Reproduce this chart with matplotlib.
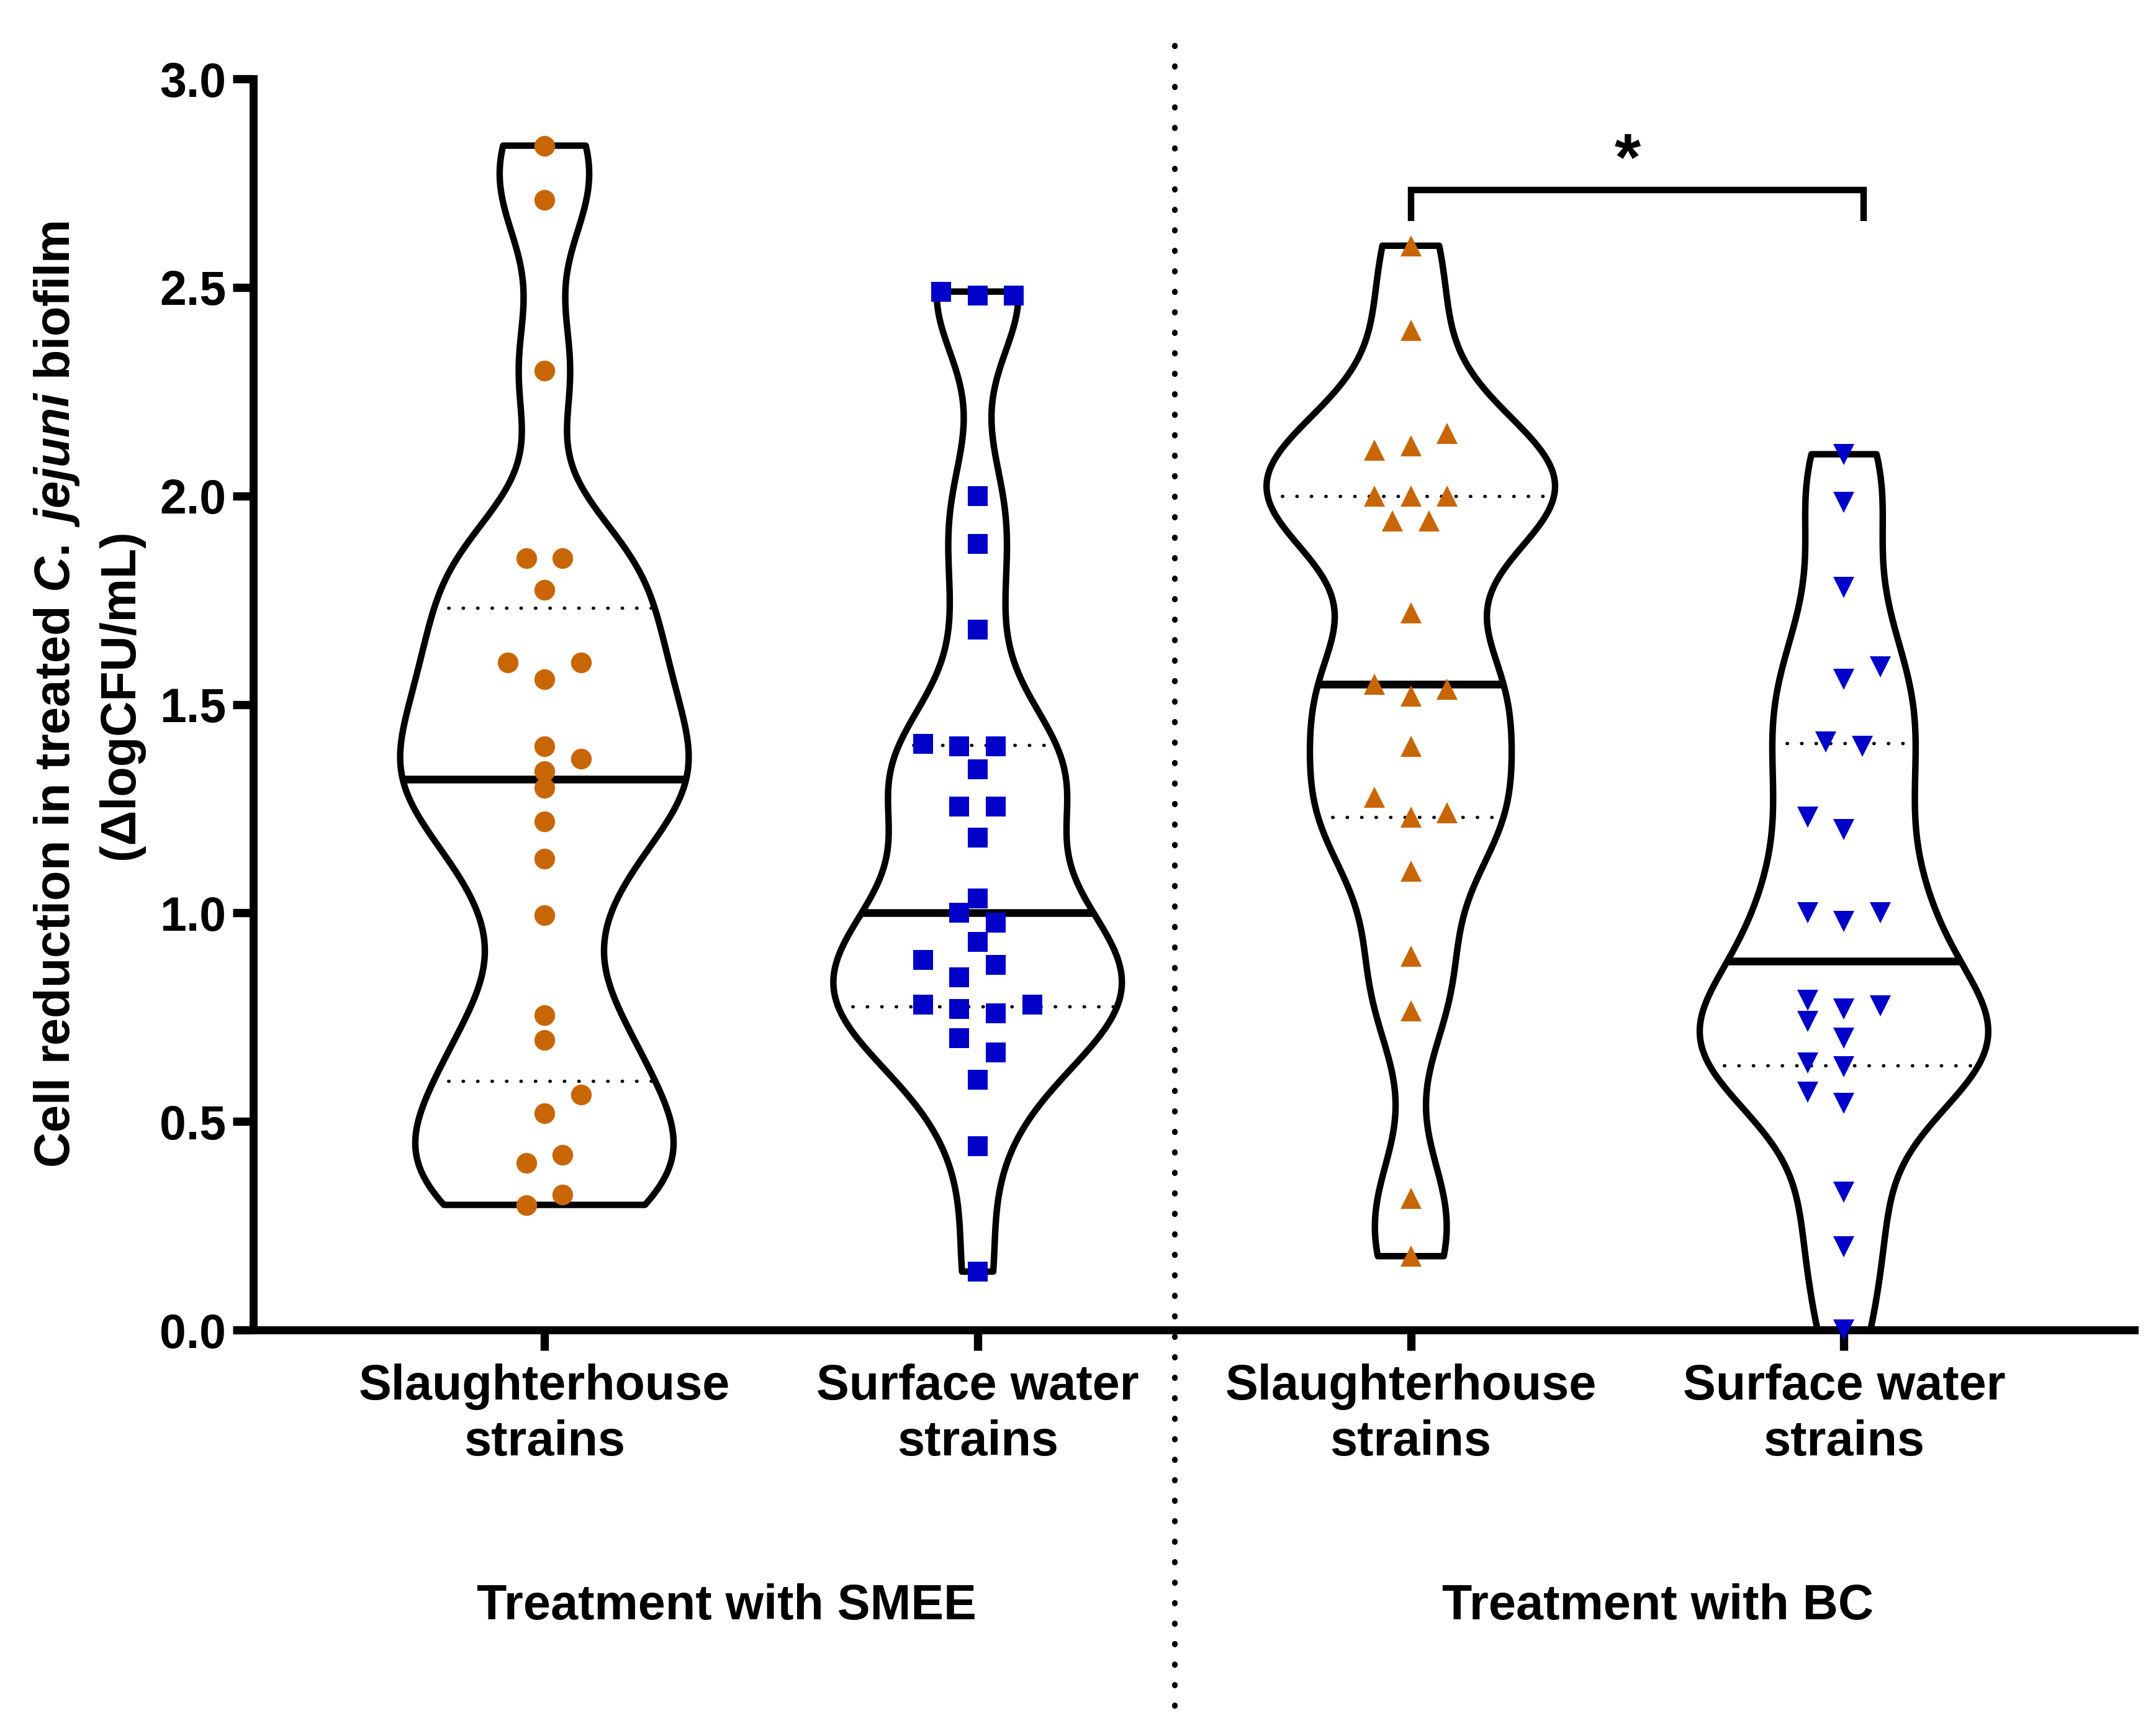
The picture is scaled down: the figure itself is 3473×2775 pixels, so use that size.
import matplotlib
matplotlib.use("Agg")
import matplotlib.pyplot as plt
import numpy as np
from matplotlib.lines import Line2D
from matplotlib.transforms import blended_transform_factory

# values (delta log CFU/mL), with the column slot of each point
smee_slaughter = [2.84, 2.71, 2.30, 1.85, 1.85, 1.775, 1.60, 1.60, 1.56, 1.40, 1.37, 1.34,
                  1.30, 1.22, 1.13, 0.995, 0.755, 0.695, 0.565, 0.52, 0.42, 0.40, 0.325, 0.30]
smee_slaughter_slot = [0, 0, 0, -1, 1, 0, -2, 2, 0, 0, 2, 0,
                       0, 0, 0, 0, 0, 0, 2, 0, 1, -1, 1, -1]

smee_surface = [2.49, 2.48, 2.48, 2.00, 1.885, 1.68, 1.405, 1.40, 1.40, 1.345, 1.255, 1.255,
                1.18, 1.035, 1.00, 0.977, 0.93, 0.887, 0.875, 0.846, 0.78, 0.77, 0.78, 0.76,
                0.70, 0.665, 0.60, 0.44, 0.14]
smee_surface_slot = [-2, 0, 2, 0, 0, 0, -3, -1, 1, 0, -1, 1,
                     0, 0, -1, 1, 0, -3, 1, -1, -3, -1, 3, 1,
                     -1, 1, 0, 0, 0]

bc_slaughter = [2.60, 2.397, 2.15, 2.11, 2.12, 2.00, 2.00, 2.00, 1.94, 1.94, 1.72, 1.548,
                1.537, 1.52, 1.40, 1.277, 1.24, 1.23, 1.10, 0.897, 0.766, 0.316, 0.177]
bc_slaughter_slot = [0, 0, 2, -2, 0, -2, 0, 2, -1, 1, 0, -2,
                     2, 0, 0, -2, 2, 0, 0, 0, 0, 0, 0]

bc_surface = [2.10, 1.984, 1.78, 1.59, 1.56, 1.41, 1.40, 1.23, 1.20, 1.00, 0.98, 1.00,
              0.79, 0.77, 0.777, 0.74, 0.70, 0.64, 0.632, 0.57, 0.543, 0.33, 0.20, 0.00]
bc_surface_slot = [0, 0, 0, 2, 0, -1, 1, -2, 0, -2, 0, 2,
                   -2, 0, 2, -2, 0, -2, 0, -2, 0, 0, 0, 0]

cat_labels = ["Slaughterhouse\nstrains", "Surface water\nstrains",
              "Slaughterhouse\nstrains", "Surface water\nstrains"]
group_labels = ["Treatment with SMEE", "Treatment with BC"]
y_ticks = [0.0, 0.5, 1.0, 1.5, 2.0, 2.5, 3.0]

ORANGE = "#C86605"
BLUE = "#0000C8"
HALF_WIDTH = 0.333
BANDWIDTH = 0.15
SLOT_STEP = 0.042


def kde_outline(values, n=400):
    values = np.asarray(values)
    grid = np.linspace(values.min(), values.max(), n)
    dens = np.exp(-0.5 * ((grid[:, None] - values[None, :]) / BANDWIDTH) ** 2).sum(axis=1)
    return grid, dens / dens.max() * HALF_WIDTH


def draw_violin(ax, pos, values, slots, marker, color, ms):
    grid, half = kde_outline(values)
    ax.fill_betweenx(grid, pos - half, pos + half, facecolor="none",
                     edgecolor="black", linewidth=2.5, zorder=2, clip_on=False)
    q1, med, q3 = np.percentile(values, [25, 50, 75], method="weibull")
    for q, style, lw in [(q1, (0, (0.1, 4.2)), 1.3), (q3, (0, (0.1, 4.2)), 1.3),
                         (med, "-", 3.0)]:
        w = np.interp(q, grid, half)
        ax.plot([pos - w, pos + w], [q, q], color="black", lw=lw, linestyle=style,
                dash_capstyle="round", solid_capstyle="butt", zorder=3)
    x = pos + np.asarray(slots) * SLOT_STEP
    ax.plot(x, values, linestyle="none", marker=marker, ms=ms, color=color,
            markeredgewidth=0, zorder=4, clip_on=False)


plt.rcParams["font.family"] = ["Liberation Sans", "DejaVu Sans"]
plt.rcParams["font.weight"] = "bold"
plt.rcParams["mathtext.fontset"] = "custom"
plt.rcParams["mathtext.rm"] = "Liberation Sans:bold"
plt.rcParams["mathtext.it"] = "Liberation Sans:bold:italic"

fig = plt.figure(figsize=(3473 / 300, 2775 / 300), dpi=300)
ax = fig.add_axes([0.1175, 0.2281, 0.9899 - 0.1175, 0.9542 - 0.2281])
ax.set_xlim(0.328, 4.67)
ax.set_ylim(0, 3)

draw_violin(ax, 1, smee_slaughter, smee_slaughter_slot, "o", ORANGE, 8.0)
draw_violin(ax, 2, smee_surface, smee_surface_slot, "s", BLUE, 7.6)
draw_violin(ax, 3, bc_slaughter, bc_slaughter_slot, "^", ORANGE, 8.2)
draw_violin(ax, 4, bc_surface, bc_surface_slot, "v", BLUE, 8.2)

# significance bracket
ax.plot([3, 3, 4.045, 4.045], [2.659, 2.733, 2.733, 2.659], color="black", lw=2.5,
        solid_joinstyle="miter", solid_capstyle="butt", zorder=3)
ax.text(3.50, 2.80, "*", ha="center", va="center", fontsize=26, fontweight="bold")

for side in ["top", "right"]:
    ax.spines[side].set_visible(False)
for side in ["left", "bottom"]:
    ax.spines[side].set_linewidth(3.1)

ax.set_yticks(y_ticks, [f"{t:.1f}" for t in y_ticks])
ax.set_xticks([1, 2, 3, 4], cat_labels)
ax.tick_params(axis="y", length=8, width=3.2, labelsize=18.5, pad=2.5)
ax.tick_params(axis="x", length=8, width=3.2, labelsize=19, pad=5)
for lbl in ax.get_xticklabels():
    lbl.set_linespacing(1.25)

blend = blended_transform_factory(ax.transData, fig.transFigure)
fig.add_artist(Line2D([2.454, 2.454], [0.010, 0.984], transform=blend, color="black",
                      lw=2.2, linestyle=(0, (0.1, 3.5)), dash_capstyle="round"))
for xg, text in zip([1.42, 3.57], group_labels):
    ax.text(xg, 0.0677, text, transform=blend, ha="center", va="center",
            fontsize=19, fontweight="bold")

fig.text(0.0409, 0.597,
         "Cell reduction in treated $\\mathit{C.\\;jejuni}$ biofilm\n(\u0394logCFU/mL)",
         rotation=90, ha="center", va="center", fontsize=19, fontweight="bold",
         multialignment="center", linespacing=1.45)

fig.savefig("out.png", dpi=300, facecolor="white")
